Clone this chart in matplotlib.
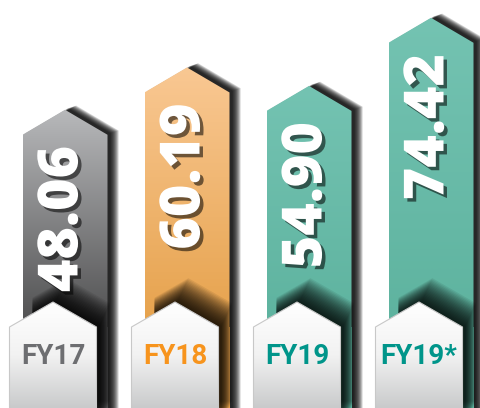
import numpy as np
import matplotlib
matplotlib.use("Agg")
import matplotlib.pyplot as plt
from matplotlib.patches import Polygon
from matplotlib.colors import LinearSegmentedColormap
import matplotlib.patheffects as pe
from matplotlib import font_manager

categories = ["FY17", "FY18", "FY19", "FY19*"]
values = [48.06, 60.19, 54.90, 74.42]
value_labels = ["48.06", "60.19", "54.90", "74.42"]

top_colors = ["#b8b9bb", "#f9c893", "#74c3b2", "#74c3b2"]
bottom_colors = ["#4f4f50", "#e6a24c", "#5eb39f", "#5eb39f"]
label_colors = ["#6d6e71", "#f7941d", "#00958a", "#00958a"]

names = {f.name for f in font_manager.fontManager.ttflist}
narrow = "Liberation Sans Narrow" if "Liberation Sans Narrow" in names else "Roboto"

W, H = 480, 408
fig = plt.figure(figsize=(W / 100, H / 100), dpi=100)
ax = fig.add_axes([0, 0, 1, 1])
ax.axis("off")

xpx = 122.0
ypx = 3.49
x0_px = 65.0
y0_px = 277.5
xlim = (-x0_px / xpx, (W - x0_px) / xpx)
ylim = ((y0_px - H) / ypx, y0_px / ypx)

half_w = 42.5 / xpx
shoulder = 25 / ypx
box_off = -12 / xpx
box_half = 43.5 / xpx
box_tip = (y0_px - 302) / ypx
box_sh = (y0_px - 327) / ypx
body_bottom = ylim[0] - 5


def arrow_pts(i, v, dx=0.0, dy=0.0):
    x = i + dx
    return [(x - half_w, body_bottom + dy), (x - half_w, v - shoulder + dy),
            (x, v + dy), (x + half_w, v - shoulder + dy),
            (x + half_w, body_bottom + dy)]


def box_pts(i, dx=0.0, dy=0.0):
    x = i + box_off + dx
    return [(x - box_half, ylim[0] - 5 + dy), (x - box_half, box_sh + dy), (x, box_tip + dy),
            (x + box_half, box_sh + dy), (x + box_half, ylim[0] - 5 + dy)]


grad = np.linspace(0, 1, 256).reshape(-1, 1)

for i, (cat, v, vl) in enumerate(zip(categories, values, value_labels)):
    # blurred drop shadow of the bar
    for k in range(10):
        ax.add_patch(Polygon(arrow_pts(i, v, dx=(3 + k * 0.9) / xpx, dy=(1.5 + k * 0.3) / ypx),
                             closed=True, fc="black", ec="none", alpha=0.17, zorder=1))
    poly = Polygon(arrow_pts(i, v), closed=True, fc="none", ec="none", zorder=2)
    ax.add_patch(poly)
    cmap = LinearSegmentedColormap.from_list("g%d" % i, [bottom_colors[i], top_colors[i]])
    im = ax.imshow(grad, cmap=cmap, extent=[i - half_w, i + half_w, box_sh, v],
                   origin="lower", aspect="auto", zorder=2, interpolation="bilinear")
    im.set_clip_path(poly)
    # fill below gradient region
    lower = Polygon([(i - half_w, body_bottom), (i - half_w, box_sh), (i + half_w, box_sh),
                     (i + half_w, body_bottom)], closed=True, fc=bottom_colors[i], ec="none",
                    zorder=2)
    ax.add_patch(lower)

    # soft shadow cast by label box onto bar
    clip = Polygon(arrow_pts(i, v, dx=10 / xpx), closed=True, transform=ax.transData)
    for k in range(20):
        sp = Polygon(box_pts(i, dx=(3 + k * 0.55) / xpx, dy=(1 + k * 1.2) / ypx), closed=True,
                     fc="black", ec="none", alpha=0.075, zorder=3)
        ax.add_patch(sp)
        sp.set_clip_path(clip)

    ax.text(i - 2 / xpx, v - 36 / ypx, vl, rotation=90, ha="center", va="top",
            color="white", fontsize=40, fontweight="heavy", family=["Open Sans", "DejaVu Sans"],
            zorder=5,
            path_effects=[pe.withSimplePatchShadow(offset=(2.5, -2.5), shadow_rgbFace="black",
                                                   alpha=0.55)])

    bpoly = Polygon(box_pts(i), closed=True, fc="none", ec="#c8c8c8", lw=0.8, zorder=7)
    ax.add_patch(bpoly)
    bcmap = LinearSegmentedColormap.from_list("b%d" % i, ["#c9cacb", "#f2f2f2", "#ffffff"])
    bim = ax.imshow(grad, cmap=bcmap, extent=[i + box_off - box_half, i + box_off + box_half,
                                               ylim[0], box_tip],
                    origin="lower", aspect="auto", zorder=6, interpolation="bilinear")
    bim.set_clip_path(Polygon(box_pts(i), closed=True, transform=ax.transData))

    ax.text(i + box_off, (y0_px - 357) / ypx, cat, ha="center", va="center",
            color=label_colors[i], fontsize=20, fontweight="bold",
            family=[narrow, "DejaVu Sans"], zorder=8)

ax.set_xlim(*xlim)
ax.set_ylim(*ylim)
fig.savefig("out.png", dpi=100, facecolor="white")
